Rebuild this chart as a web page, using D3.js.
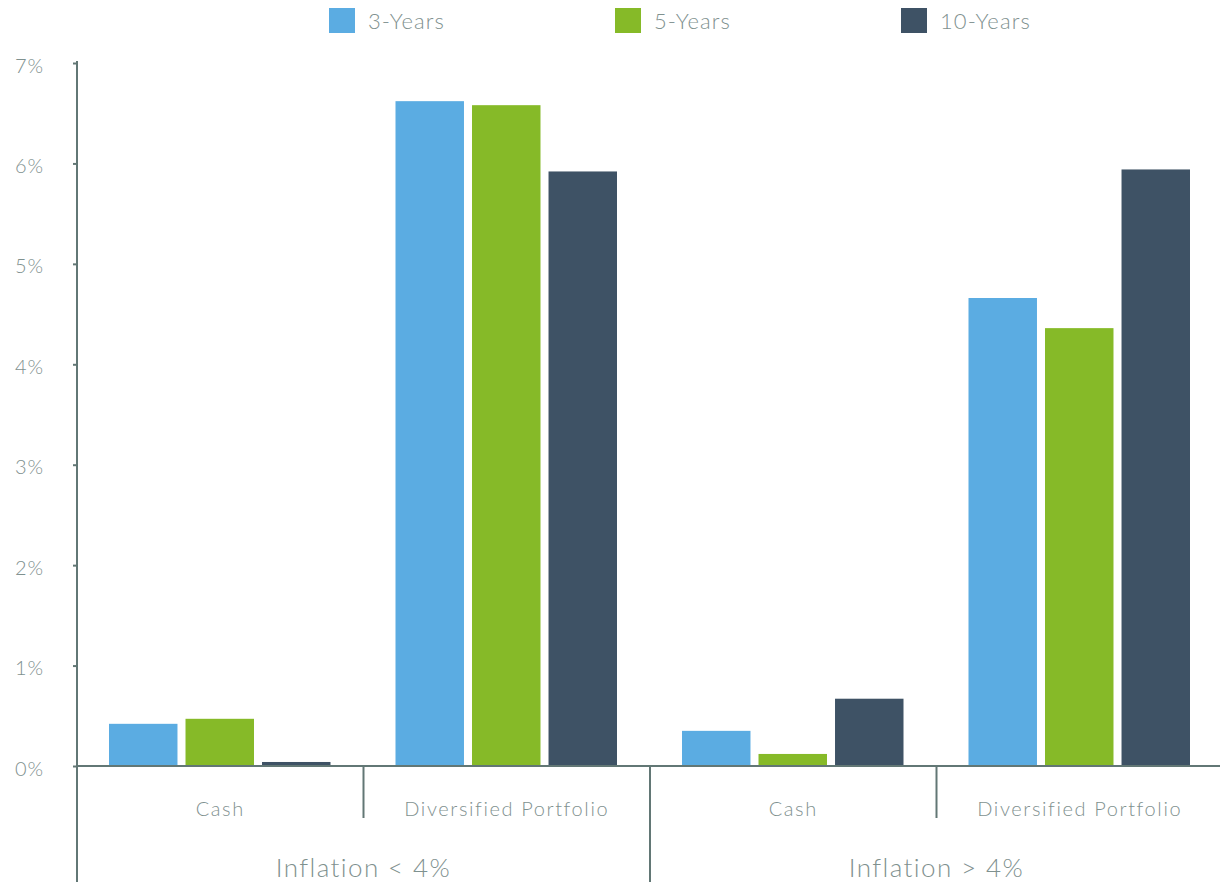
<!DOCTYPE html>
<html><head><meta charset="utf-8">
<script src="https://cdn.jsdelivr.net/npm/d3@7"></script>
<style>
body{margin:0;background:#fff;}
text{font-family:Lato,"Open Sans",sans-serif;font-weight:300;fill:#7f918f;}
</style></head>
<body><svg id="c" width="1220" height="882"></svg>
<script>
const groups = ["Inflation < 4%", "Inflation > 4%"];
const assets = ["Cash", "Diversified Portfolio"];
const seriesNames = ["3-Years", "5-Years", "10-Years"];
const colors = ["#5BACE2", "#86BA28", "#3E5265"];
const series3y = [0.42, 6.62, 0.35, 4.66];
const series5y = [0.47, 6.58, 0.12, 4.36];
const series10y = [0.04, 5.92, 0.67, 5.94];
const yTicks = [0, 1, 2, 3, 4, 5, 6, 7];

(function(){
const svg = d3.select("#c");
const left = 77, right = 1223, plotTop = 63, zeroY = 766;
const cats = [];
groups.forEach(g => assets.forEach(a => cats.push(g + "|" + a)));
const x = d3.scaleBand().domain(cats).range([left, right]).paddingInner(0).paddingOuter(0);
const y = d3.scaleLinear().domain([0, 7]).range([zeroY, plotTop]);
const inner = d3.scaleBand().domain(seriesNames).range([32, x.bandwidth() - 33]).paddingInner(0.105);
const axisCol = "#627775";

const allSeries = [series3y, series5y, series10y];
cats.forEach((c, i) => {
  seriesNames.forEach((s, j) => {
    const v = allSeries[j][i];
    svg.append("rect")
      .attr("x", x(c) + inner(s))
      .attr("width", inner.bandwidth())
      .attr("y", y(v))
      .attr("height", y(0) - y(v))
      .attr("fill", colors[j]);
  });
});

const yAxis = d3.axisLeft(y).tickValues(yTicks).tickFormat(d => d + "%").tickSize(4).tickPadding(28);
const ga = svg.append("g").attr("transform", `translate(${left},0)`).call(yAxis);
ga.select(".domain").remove();
ga.selectAll(".tick line").attr("stroke", axisCol).attr("stroke-width", 2);
ga.selectAll(".tick text").style("font-size", "20px").style("letter-spacing", "0.8px")
  .attr("text-anchor", "start").attr("x", -62).attr("dy", "0.45em");
svg.append("line").attr("x1", left).attr("x2", left).attr("y1", plotTop - 2).attr("y2", 882).attr("stroke", axisCol).attr("stroke-width", 2);

svg.append("line").attr("x1", left).attr("x2", 1220).attr("y1", zeroY).attr("y2", zeroY).attr("stroke", axisCol).attr("stroke-width", 2);

cats.forEach((c, i) => {
  const a = c.split("|")[1];
  svg.append("text").attr("x", x(c) + x.bandwidth() / 2).attr("y", 816)
    .attr("text-anchor", "middle").style("font-size", "20px").style("letter-spacing", "1.6px").text(a);
  if (i > 0) {
    const long = i % 2 === 0;
    svg.append("line").attr("x1", x(c)).attr("x2", x(c)).attr("y1", zeroY).attr("y2", long ? 882 : 818)
      .attr("stroke", axisCol).attr("stroke-width", 2);
  }
});
groups.forEach((g) => {
  const x0 = x(g + "|" + assets[0]), x1 = x(g + "|" + assets[1]) + x.bandwidth();
  svg.append("text").attr("x", (x0 + x1) / 2).attr("y", 877).attr("text-anchor", "middle")
    .style("font-size", "26px").style("letter-spacing", "1.4px").text(g);
});

const legX = [329, 615, 901];
seriesNames.forEach((s, j) => {
  svg.append("rect").attr("x", legX[j]).attr("y", 8).attr("width", 26).attr("height", 25).attr("fill", colors[j]);
  svg.append("text").attr("x", legX[j] + 39).attr("y", 29).style("font-size", "22px").style("letter-spacing", "1.1px").text(s);
});
})();
</script></body></html>
